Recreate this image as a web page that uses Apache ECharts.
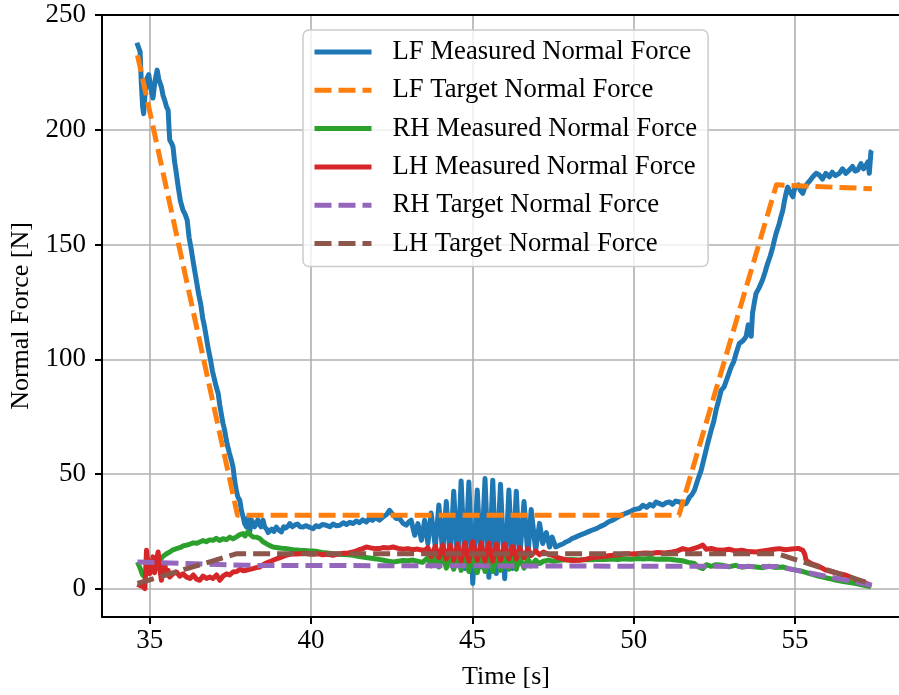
<!DOCTYPE html>
<html><head><meta charset="utf-8">
<script src="https://cdn.jsdelivr.net/npm/echarts@6/dist/echarts.min.js"></script>
<style>html,body{margin:0;padding:0;background:#fff}#c{width:899px;height:695px}</style>
</head><body><div id="c"></div>
<script>
const xTicks = [35, 40, 45, 50, 55];
const yTicks = [0, 50, 100, 150, 200, 250];
const seriesNames = ['LF Measured Normal Force', 'LF Target Normal Force', 'RH Measured Normal Force',
  'LH Measured Normal Force', 'RH Target Normal Force', 'LH Target Normal Force'];

// [time s, force N]
const lfMeasured = [
[34.60,237.9],[34.65,238.5],[34.70,234],[34.74,220],[34.78,210],[34.81,207],[34.85,215],[34.90,222],[34.97,224],
[35.03,218],[35.10,213.8],[35.16,221],[35.23,226],[35.28,222],[35.36,218.7],[35.41,215],[35.46,213],[35.52,210],
[35.57,208.6],[35.60,200],[35.62,195.5],[35.68,194],[35.72,192.6],[35.77,186],[35.81,182.4],[35.88,175.2],[35.95,169],
[36.03,165],[36.10,163],[36.16,160.6],[36.22,153],[36.29,147.6],[36.34,143],[36.39,138.8],[36.46,133],[36.52,128],
[36.58,124],[36.64,118],[36.70,114],[36.76,109],[36.82,104],[36.88,100],[36.94,95],[37.01,90.9],[37.06,88],[37.12,85.1],
[37.17,80],[37.22,76],[37.27,72],[37.32,69.1],[37.37,65],[37.42,61.8],[37.47,59],[37.53,56],[37.58,53.1],[37.63,47.3],
[37.68,42.9],[37.73,40],[37.79,38.6],[37.84,34.2],[37.90,31],[37.94,28.4],[38.00,26.9],[38.05,31],[38.10,25],[38.15,30],
[38.20,29.9],[38.25,27],[38.30,26.4],[38.35,30],[38.40,28],[38.45,27],[38.51,29.9],[38.56,27],[38.62,26],[38.67,24.5],
[38.72,24.2],[38.78,26],[38.85,25],[38.92,26.9],[39.00,25.5],[39.08,24.8],[39.15,27],[39.22,26.5],[39.30,27.5],[39.34,28.4],
[39.42,27],[39.50,27.8],[39.58,28.2],[39.66,27],[39.75,26.9],[39.85,27.5],[39.95,26.8],[40.06,26.2],[40.15,27.5],[40.25,27],
[40.35,28],[40.47,27.7],[40.58,27],[40.68,28.2],[40.78,27.5],[40.89,27.7],[41.00,28.8],[41.10,28],[41.20,29],[41.30,28.4],
[41.40,29.5],[41.50,28.8],[41.60,30],[41.71,29.1],[41.80,30.5],[41.90,29.8],[42.00,31],[42.12,29.9],[42.25,31.5],[42.35,32.5],
[42.43,34.2],[42.48,35],[42.55,32],[42.64,30.6],[42.74,30.6],[42.85,28.5],[42.95,27.7],[43.02,29],[43.10,29.9],[43.21,23.3],
[43.31,28.4],[43.42,21.1],[43.52,29.9],[43.62,19.7],[43.72,33],[43.85,18.2],[43.96,36.5],[44.08,15.3],[44.19,38],[44.31,13.2],
[44.42,42.5],[44.54,11],[44.65,47],[44.77,8.8],[44.89,46.5],[45.01,2.3],[45.15,43],[45.27,9.5],[45.39,48],[45.51,5],
[45.63,47.3],[45.74,6.6],[45.87,45.5],[46.00,4.4],[46.13,43],[46.24,8.8],[46.36,42.5],[46.46,12.4],[46.60,38],[46.72,13.9],
[46.82,34.5],[46.96,16.8],[47.08,28.5],[47.18,19.7],[47.29,24.5],[47.39,18.2],[47.47,22.5],[47.58,18.2],[47.70,19],[47.80,19.5],
[47.90,20.4],[48.00,21],[48.10,22],[48.20,22.5],[48.32,23.3],[48.45,24],[48.58,24.8],[48.70,25.5],[48.84,26.2],[48.97,27.2],
[49.10,28],[49.22,29.2],[49.35,29.9],[49.48,31],[49.60,32],[49.74,32.8],[49.87,33.5],[50.00,34.5],[50.18,35],[50.28,36.4],
[50.40,35.5],[50.50,36.8],[50.60,36],[50.69,37.8],[50.80,37.1],[50.90,36.5],[51.00,37.5],[51.11,37.8],[51.20,36.8],[51.30,38.2],
[51.42,37.8],[51.52,36.8],[51.62,37.1],[51.73,40],[51.80,41],[51.88,42.9],[51.98,47.3],[52.09,51.7],[52.19,57.5],[52.29,63.3],
[52.40,69.1],[52.48,73],[52.55,77.8],[52.63,82],[52.71,86.5],[52.80,88],[52.91,92.3],[53.02,96.7],[53.10,99],[53.17,102.5],
[53.27,106.9],[53.38,108],[53.48,109.8],[53.55,115],[53.60,113],[53.64,110],[53.68,120],[53.74,125],[53.79,128.7],[53.88,131],
[53.99,134.5],[54.07,138],[54.15,141.8],[54.23,145],[54.31,149],[54.36,152],[54.41,154.8],[54.46,157],[54.51,159.2],[54.56,162],
[54.62,165],[54.67,169],[54.72,172.3],[54.77,175],[54.83,174.5],[54.88,172],[54.93,170.8],[54.98,174],[55.03,175.2],[55.10,176],
[55.17,173.5],[55.24,172.3],[55.30,175],[55.39,176.7],[55.47,178],[55.55,179.5],[55.65,181],[55.75,180.3],[55.85,178.5],[55.95,181],
[56.06,179.5],[56.15,181.5],[56.25,180],[56.37,181],[56.47,183],[56.57,181],[56.68,182.4],[56.78,184],[56.86,182],[56.94,182.4],
[57.04,185.3],[57.12,183],[57.20,184.6],[57.26,186],[57.30,181],[57.35,190.4],[57.38,191]
];

const lfTarget = [[34.62,232.5],[37.72,32],[51.40,32],[54.42,176],[57.38,174.3]];

const rhMeasured = [
[34.62,11.7],[34.70,9],[34.78,6],[34.85,5.1],[34.92,8],[35.00,9.5],[35.08,11],[35.15,12],[35.23,12.8],[35.31,12.4],
[35.40,14],[35.52,15.3],[35.62,16],[35.72,17],[35.83,17.5],[35.95,18],[36.05,18.8],[36.14,19],[36.25,19.5],[36.35,20],
[36.45,19.8],[36.55,20.4],[36.65,21],[36.75,20.5],[36.85,21.3],[36.96,21.1],[37.06,22],[37.16,21],[37.27,21.8],[37.38,21.4],
[37.48,22.5],[37.58,21.8],[37.69,22.6],[37.78,23.5],[37.89,24.1],[37.95,23],[38.04,24.8],[38.12,23.5],[38.20,22.6],[38.30,22.5],
[38.41,21.9],[38.51,20.5],[38.61,19.7],[38.72,18.8],[38.82,18.2],[38.92,18],[39.02,17.8],[39.12,17.6],[39.23,17.5],[39.35,17.2],
[39.45,17],[39.55,16.9],[39.65,16.8],[39.80,16.7],[39.95,16.5],[40.06,16.5],[40.20,16.2],[40.35,15.8],[40.50,15.6],[40.68,15.3],
[40.85,15],[41.00,14.9],[41.15,14.8],[41.30,14.6],[41.45,14.2],[41.60,13.8],[41.75,13.5],[41.92,13.2],[42.10,12.8],[42.25,12.4],
[42.40,12],[42.54,11.7],[42.70,12],[42.85,12.3],[43.00,12.2],[43.15,12.5],[43.30,12],[43.45,11.5],[43.62,13.5],[43.72,10],
[43.85,14],[43.96,9.5],[44.08,14.5],[44.19,9],[44.31,14],[44.42,8.5],[44.54,14.5],[44.65,8],[44.77,15],[44.89,7.5],
[45.01,14],[45.15,7],[45.27,15],[45.39,7.5],[45.51,14],[45.63,7.5],[45.74,14.5],[45.87,8],[46.00,14],[46.13,8.5],
[46.24,14],[46.36,8.5],[46.46,13.5],[46.60,9],[46.72,13],[46.82,10],[46.96,12.5],[47.08,11],[47.20,12],[47.35,12.5],
[47.50,12],[47.70,12.4],[47.90,12.6],[48.10,12.8],[48.30,12.5],[48.50,12.8],[48.70,12.6],[48.90,12.9],[49.10,12.7],[49.30,13],
[49.50,12.8],[49.70,13.1],[49.90,12.9],[50.10,13.2],[50.30,13],[50.50,13.2],[50.70,12.9],[50.90,13],[51.10,12.9],[51.30,12.5],
[51.50,12.2],[51.70,11.5],[51.88,11],[52.00,9.5],[52.14,8.8],[52.25,10.5],[52.40,9.8],[52.55,10.5],[52.76,10.2],[52.95,9.6],
[53.15,10.2],[53.35,9.4],[53.55,9.8],[53.79,9.5],[54.00,9.2],[54.20,9.8],[54.40,9.3],[54.62,9.5],[54.80,8.8],[55.03,8.1],
[55.25,7.5],[55.45,6.6],[55.65,5.8],[55.86,5.1],[56.05,4.5],[56.25,3.8],[56.45,3.3],[56.65,2.8],[56.89,2.3],[57.10,1.6],
[57.25,1.2],[57.35,0.8]
];

const lhMeasured = [
[34.62,2],[34.69,1.5],[34.78,1],[34.85,0.1],[34.90,16.8],[34.95,10],[35.00,6.6],[35.05,9],[35.10,13.9],[35.15,7],
[35.20,12],[35.26,16],[35.31,9],[35.36,3.7],[35.41,8],[35.46,11],[35.52,6],[35.57,8],[35.62,5.1],[35.72,6.5],
[35.83,7.3],[35.93,5.5],[36.03,6.5],[36.14,5.1],[36.25,4.5],[36.35,6],[36.45,4.2],[36.55,3.7],[36.65,5.5],[36.76,4.5],
[36.86,5.1],[36.96,4.5],[37.07,6],[37.17,3.7],[37.27,5.5],[37.38,6.5],[37.48,6],[37.58,7.3],[37.70,7.5],[37.80,8.5],
[37.90,7.8],[38.00,8.1],[38.10,8.5],[38.20,8.8],[38.30,9.2],[38.41,9.5],[38.51,10.5],[38.61,11.2],[38.72,11.8],[38.82,12.4],
[38.92,13],[39.02,13.5],[39.12,14],[39.23,14.6],[39.35,15],[39.45,15.2],[39.55,15.2],[39.65,15.3],[39.80,15.5],[39.95,15.1],
[40.06,15],[40.20,15.3],[40.35,14.8],[40.50,15],[40.68,14.6],[40.85,15.2],[41.00,15.5],[41.15,15.6],[41.30,16],[41.45,16.8],
[41.60,17.5],[41.71,18.2],[41.85,17.8],[42.00,17.5],[42.12,17.5],[42.25,18],[42.40,17.8],[42.54,18.2],[42.70,17.6],[42.85,17.2],
[43.00,17.5],[43.15,17],[43.30,17.3],[43.45,16.8],[43.55,17],[43.62,18],[43.72,14],[43.85,18.5],[43.96,13.5],[44.08,19],
[44.19,13],[44.31,19],[44.42,12.5],[44.54,19.5],[44.65,12],[44.77,20],[44.89,12],[45.01,20.5],[45.15,12.5],[45.27,20],
[45.39,12],[45.51,20],[45.63,12],[45.74,19.5],[45.87,12.5],[46.00,19.5],[46.13,13],[46.24,18.5],[46.36,13],[46.46,18],
[46.60,13.5],[46.72,17.5],[46.82,14.5],[46.96,16.5],[47.08,14.8],[47.20,16],[47.35,15],[47.50,14.5],[47.65,13.5],[47.80,13],
[47.95,12.5],[48.10,12.3],[48.32,12.4],[48.50,12.8],[48.70,13.5],[48.90,13.8],[49.10,14.2],[49.35,14.6],[49.55,14.8],[49.75,15.3],
[49.95,15.2],[50.15,15.4],[50.35,15.6],[50.55,15.5],[50.75,15.8],[50.95,15.6],[51.20,16],[51.35,16.5],[51.52,17.5],[51.70,16.8],
[51.85,17.5],[52.00,18.2],[52.14,19],[52.25,17.2],[52.40,17.6],[52.55,17],[52.76,16.8],[52.95,17.2],[53.15,16.5],[53.35,16.8],
[53.55,16.2],[53.79,16],[54.00,16.5],[54.20,16.9],[54.35,17.2],[54.51,17.5],[54.70,17],[54.90,17.3],[55.10,17.6],[55.24,16.8],
[55.30,15],[55.34,12.4],[55.50,11],[55.70,10],[55.96,8.1],[56.20,7.2],[56.40,6.5],[56.58,5.9],[56.80,4.6],[57.00,3.5],
[57.20,2.4],[57.35,1.5]
];

const rhTarget = [[34.62,11.7],[38.00,10.2],[54.45,9.7],[57.38,1.5]];
const lhTarget = [[34.62,2.3],[37.70,15.3],[54.45,15.3],[57.38,2.0]];

const FONT = "Liberation Serif";
const colors = ['#1f77b4', '#ff7f0e', '#2ca02c', '#d62728', '#9467bd', '#8c564b'];
const dataList = [lfMeasured, lfTarget, rhMeasured, lhMeasured, rhTarget, lhTarget];
const dashed = [false, true, false, false, true, true];
const LW = 5;

const chart = echarts.init(document.getElementById('c'), null, { renderer: 'canvas' });
const series = seriesNames.map((name, i) => ({
  name: name, type: 'line', data: dataList[i], showSymbol: false, symbol: 'none',
  animation: false, z: 2 + i * 0.01,
  lineStyle: { color: colors[i], width: LW, type: dashed[i] ? [17, 7] : 'solid', cap: 'butt', join: 'round' },
  itemStyle: { color: colors[i] }
}));

function tickFormatter(ticks) {
  return function (v) {
    for (const t of ticks) { if (Math.abs(v - t) < 1e-6) return '{t|' + t + '}'; }
    return '';
  };
}
const tickRich = { t: { fontFamily: FONT, fontSize: 27, color: '#000', fontWeight: 'normal' } };

const option = {
  animation: false,
  backgroundColor: '#ffffff',
  textStyle: { fontFamily: FONT, color: '#000' },
  grid: { left: 102, right: 0, top: 15, bottom: 78 },
  legend: {
    orient: 'vertical', left: 303, top: 30, padding: [7, 11, 8, 9], itemGap: 8.3,
    itemWidth: 57, itemHeight: 14,
    backgroundColor: 'rgba(255,255,255,0.8)', borderColor: '#cccccc', borderWidth: 1.5, borderRadius: 6,
    itemStyle: { opacity: 0, borderWidth: 0 },
    lineStyle: { width: LW },
    textStyle: { fontFamily: FONT, fontSize: 26.7, color: '#000', lineHeight: 30, padding: [0, 0, 0, 16] },
    data: seriesNames
  },
  xAxis: [{
    type: 'value', min: 33.52, max: 58.22, splitNumber: 5,
    name: 'Time [s]', nameLocation: 'middle', nameGap: 47,
    nameTextStyle: { fontFamily: FONT, fontSize: 26, color: '#000', padding: [0, 0, 0, 11] },
    axisLine: { show: true, onZero: false, lineStyle: { color: '#000', width: 2 } },
    axisTick: { show: true, length: 7, customValues: xTicks, lineStyle: { color: '#000', width: 2 } },
    axisLabel: { margin: 10, showMinLabel: false, showMaxLabel: false, fontFamily: FONT, fontSize: 27, color: '#000',
      formatter: tickFormatter(xTicks), rich: tickRich },
    splitLine: { show: true, lineStyle: { color: '#b0b0b0', width: 1.6 } }
  }, {
    type: 'value', position: 'top', min: 33.52, max: 58.22,
    axisLine: { show: true, onZero: false, lineStyle: { color: '#000', width: 2 } },
    axisTick: { show: false }, axisLabel: { show: false }, splitLine: { show: false }
  }],
  yAxis: {
    type: 'value', min: -12.3, max: 250, splitNumber: 5,
    name: 'Normal Force [N]', nameLocation: 'middle', nameGap: 64,
    nameTextStyle: { fontFamily: FONT, fontSize: 26, color: '#000' },
    axisLine: { show: true, onZero: false, lineStyle: { color: '#000', width: 2 } },
    axisTick: { show: true, length: 7, customValues: yTicks, lineStyle: { color: '#000', width: 2 } },
    axisLabel: { margin: 16, showMinLabel: false, showMaxLabel: true, fontFamily: FONT, fontSize: 27, color: '#000',
      formatter: tickFormatter(yTicks), rich: tickRich },
    splitLine: { show: true, lineStyle: { color: '#b0b0b0', width: 1.6 } }
  },
  series: series
};
chart.setOption(option);
</script>
</body></html>
